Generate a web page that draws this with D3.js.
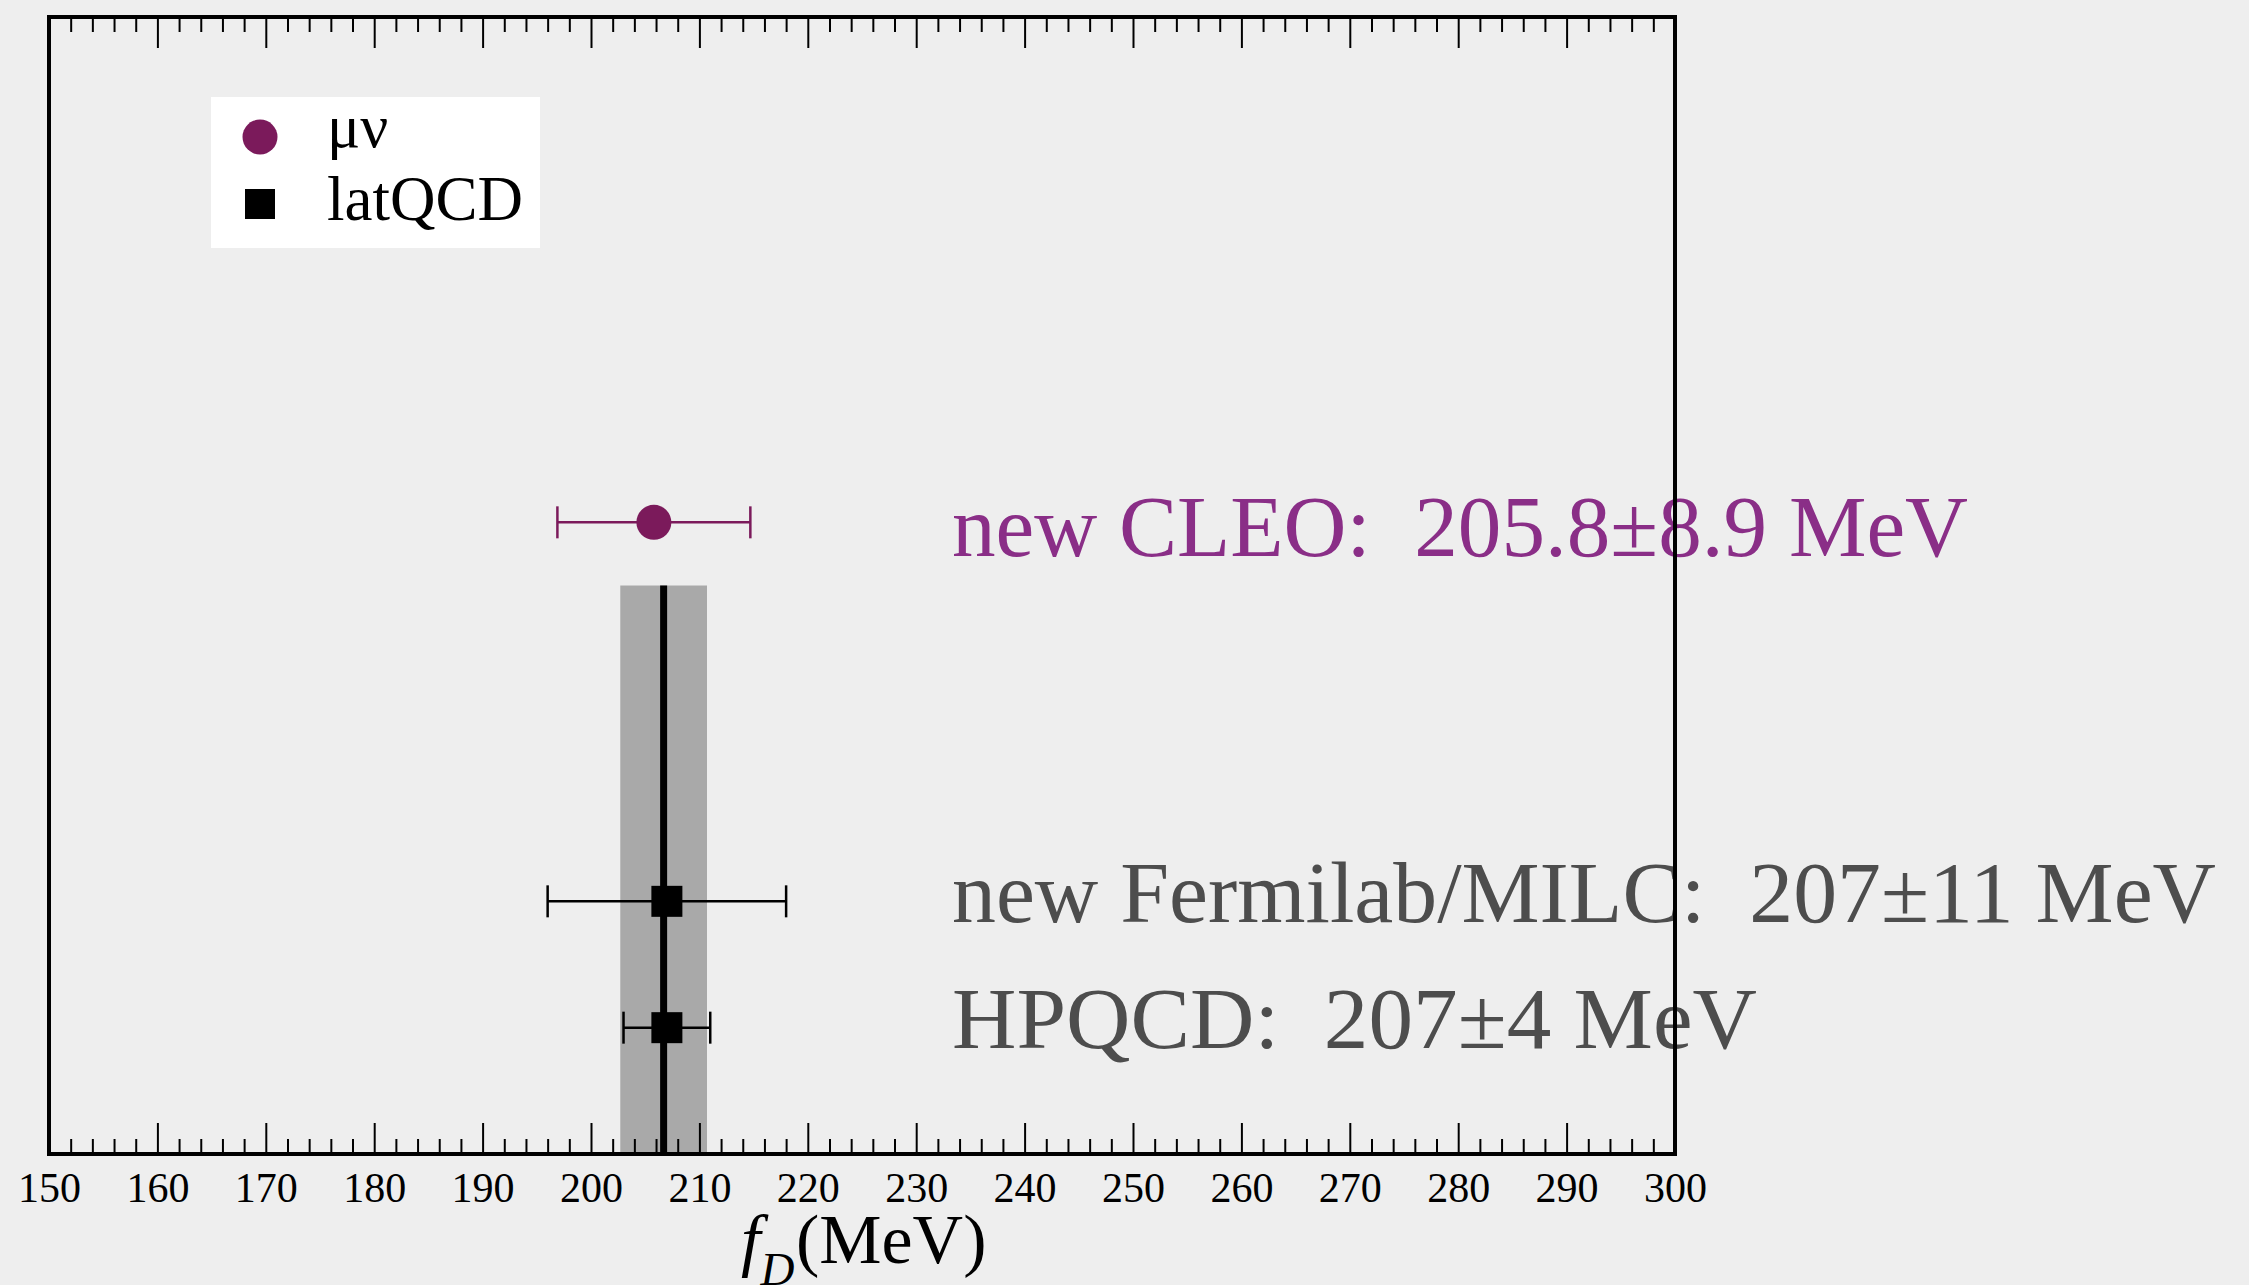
<!DOCTYPE html>
<html>
<head>
<meta charset="utf-8">
<script src="https://cdn.jsdelivr.net/npm/d3@7"></script>
<style>
  html, body { margin: 0; padding: 0; background: #eeeeee; }
  svg { display: block; }
</style>
</head>
<body>
<svg id="chart" width="2249" height="1285"></svg>
<script>
// ---- data ----
const names    = ["new CLEO", "new Fermilab/MILC", "HPQCD"];
const values   = [205.8, 207, 207];          // f_D (MeV)
const errors   = [8.9, 11, 4];               // ± (MeV)
const rows     = [5, 2, 1];                  // vertical row position
const series   = ["μν", "latQCD", "latQCD"];
const labels   = ["new CLEO:\u00a0 205.8±8.9 MeV", "new Fermilab/MILC:\u00a0 207±11 MeV", "HPQCD:\u00a0 207±4 MeV"];
const bandCenter = [206.7];
const bandHalf   = [4];
const bandTopRow = [4.5];
const majorTicks = d3.range(150, 301, 10);
const minorTicks = d3.range(150, 301, 2).filter(v => v % 10 !== 0);
const legendNames = ["μν", "latQCD"];

// ---- layout ----
const plotL = 49, plotR = 1675, plotT = 17, plotB = 1154;
const purple = "#7b1a5b", purpleText = "#8a2e87", grayText = "#4d4d4d";
const serif = "'Liberation Serif', 'Times New Roman', serif";

const svg = d3.select("#chart");
const x = d3.scaleLinear().domain([150, 300]).range([plotL, plotR]);
const y = d3.scaleLinear().domain([0, 9]).range([plotB, plotT]);

// band
svg.append("rect")
  .attr("x", x(bandCenter[0] - bandHalf[0]))
  .attr("width", x(bandCenter[0] + bandHalf[0]) - x(bandCenter[0] - bandHalf[0]))
  .attr("y", y(bandTopRow[0]))
  .attr("height", y(0) - y(bandTopRow[0]))
  .attr("fill", "#a9a9a9");
svg.append("line")
  .attr("x1", x(bandCenter[0])).attr("x2", x(bandCenter[0]))
  .attr("y1", y(bandTopRow[0])).attr("y2", y(0))
  .attr("stroke", "#000").attr("stroke-width", 7);

// error bars
const data = names.map((n, i) => ({ name: n, v: values[i], e: errors[i], r: rows[i], s: series[i], label: labels[i] }));
const colorOf = d => d.s === "μν" ? purple : "#000";
const eb = svg.append("g");
data.forEach(d => {
  const g = eb.append("g").attr("stroke", colorOf(d)).attr("stroke-width", 2.5);
  const cy = y(d.r);
  g.append("line").attr("x1", x(d.v - d.e)).attr("x2", x(d.v + d.e)).attr("y1", cy).attr("y2", cy);
  const cap = 16;
  g.append("line").attr("x1", x(d.v - d.e)).attr("x2", x(d.v - d.e)).attr("y1", cy - cap).attr("y2", cy + cap);
  g.append("line").attr("x1", x(d.v + d.e)).attr("x2", x(d.v + d.e)).attr("y1", cy - cap).attr("y2", cy + cap);
});

// markers
data.forEach(d => {
  if (d.s === "μν") {
    svg.append("circle").attr("cx", x(d.v)).attr("cy", y(d.r)).attr("r", 17.5).attr("fill", purple);
  } else {
    svg.append("rect").attr("x", x(d.v) - 15.5).attr("y", y(d.r) - 15.5)
      .attr("width", 31).attr("height", 31).attr("fill", "#000");
  }
});

// text labels
const labelY = [556, 922, 1048];
const labelW = [1016, 1264, 805];
data.forEach((d, i) => {
  svg.append("text")
    .attr("x", 952).attr("y", labelY[i])
    .attr("font-family", serif).attr("font-size", 86)
    .attr("fill", d.s === "μν" ? purpleText : grayText)
    .attr("textLength", labelW[i]).attr("lengthAdjust", "spacingAndGlyphs")
    .text(d.label);
});

// axes ticks
const bottomMinor = d3.axisBottom(x).tickValues(minorTicks).tickSize(-15).tickFormat("");
const bottomMajor = d3.axisBottom(x).tickValues(majorTicks).tickSize(-31).tickPadding(18).tickFormat(d3.format("d"));
const topMinor = d3.axisTop(x).tickValues(minorTicks).tickSize(-15).tickFormat("");
const topMajor = d3.axisTop(x).tickValues(majorTicks).tickSize(-31).tickFormat("");

function styleAxis(g) {
  g.select(".domain").remove();
  g.selectAll(".tick line").attr("stroke", "#000").attr("stroke-width", 2);
  g.selectAll(".tick text").attr("fill", "#000").attr("font-family", serif).attr("font-size", 42);
}
svg.append("g").attr("transform", `translate(0,${plotB})`).call(bottomMinor).call(styleAxis);
svg.append("g").attr("transform", `translate(0,${plotB})`).call(bottomMajor).call(styleAxis);
svg.append("g").attr("transform", `translate(0,${plotT})`).call(topMinor).call(styleAxis);
svg.append("g").attr("transform", `translate(0,${plotT})`).call(topMajor).call(styleAxis);

// frame
svg.append("rect").attr("x", plotL).attr("y", plotT).attr("width", plotR - plotL).attr("height", plotB - plotT)
  .attr("fill", "none").attr("stroke", "#000").attr("stroke-width", 4);

// axis title
const title = svg.append("text").attr("x", 741).attr("y", 1263)
  .attr("font-family", serif).attr("font-size", 70).attr("fill", "#000");
title.append("tspan").attr("font-style", "italic").text("f");
title.append("tspan").attr("font-style", "italic").attr("font-size", 47).attr("dy", 22).text("D");
title.append("tspan").attr("dy", -22).attr("x", 796).text("(MeV)");

// legend
const lg = svg.append("g");
lg.append("rect").attr("x", 211).attr("y", 97).attr("width", 329).attr("height", 151).attr("fill", "#fff");
lg.append("circle").attr("cx", 260).attr("cy", 137).attr("r", 17.5).attr("fill", purple);
lg.append("rect").attr("x", 245).attr("y", 189).attr("width", 30).attr("height", 30).attr("fill", "#000");
lg.append("text").attr("x", 327).attr("y", 147).attr("font-family", serif).attr("font-size", 62).attr("fill", "#000").text(legendNames[0]);
lg.append("text").attr("x", 327).attr("y", 220).attr("font-family", serif).attr("font-size", 63).attr("fill", "#000").text(legendNames[1]);
</script>
</body>
</html>
